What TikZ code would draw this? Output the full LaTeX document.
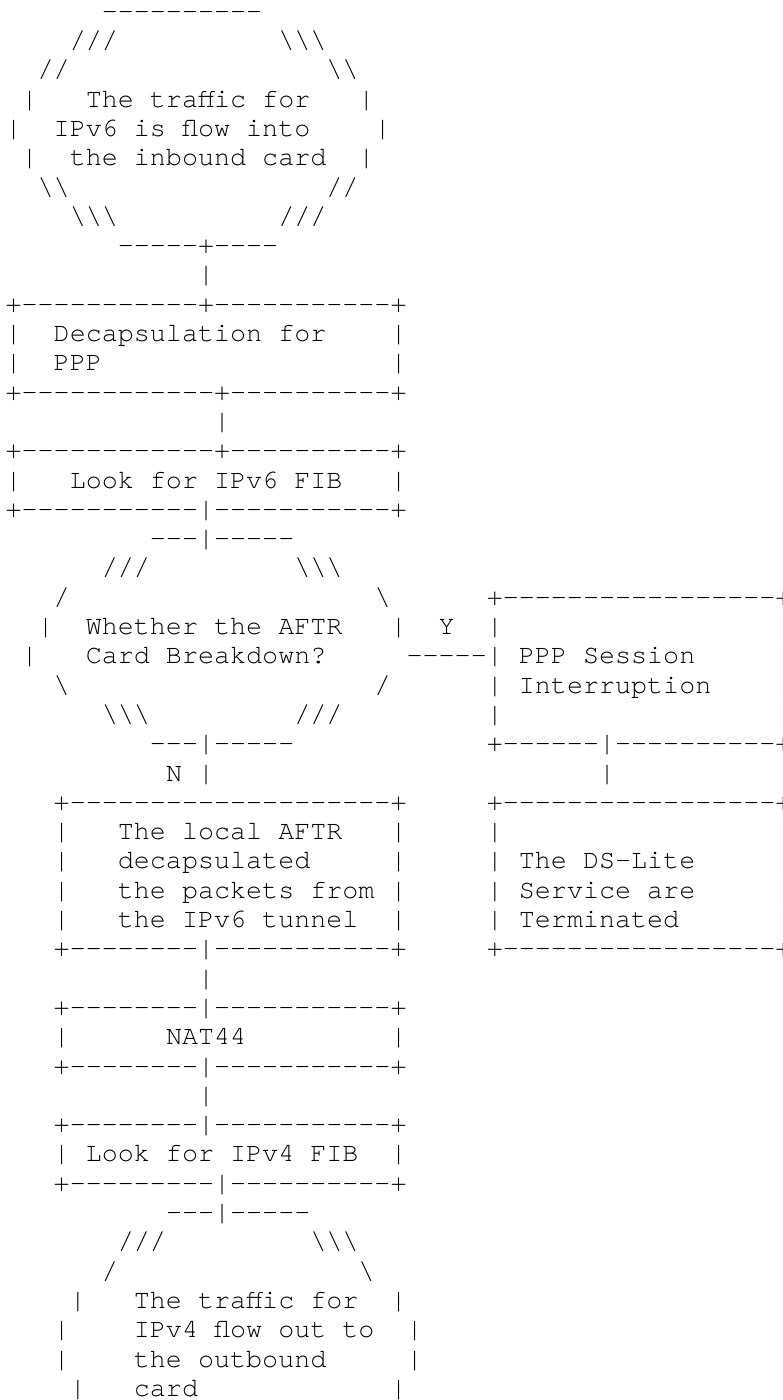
\documentclass[tikz,border=0pt]{standalone}
\usepackage{fontspec}
\setmonofont{TeX Gyre Cursor}

\newcommand\bsl{\textbackslash}
\tikzset{asc/.style={anchor=base west,inner sep=0pt,outer sep=0pt,
    font=\ttfamily\fontsize{26.73pt}{29.3pt}\selectfont}}

\begin{document}
\begin{tikzpicture}[x=16.04pt,y=-29.3pt]
\useasboundingbox (-5.6pt,19.2pt) rectangle (777.4pt,-1380.8pt);

% inbound traffic
\node (st0)    at ( 6, 0) [asc] {----------};
\node (st1l)   at ( 4, 1) [asc] {///};
\node (st1r)   at (17, 1) [asc] {\bsl\bsl\bsl};
\node (st2l)   at ( 2, 2) [asc] {//};
\node (st2r)   at (20, 2) [asc] {\bsl\bsl};
\node (st3l)   at ( 1, 3) [asc] {|};
\node (start1) at ( 5, 3) [asc] {The traffic for};
\node (st3r)   at (22, 3) [asc] {|};
\node (st4l)   at ( 0, 4) [asc] {|};
\node (start2) at ( 3, 4) [asc] {IPv6 is flow into};
\node (st4r)   at (23, 4) [asc] {|};
\node (st5l)   at ( 1, 5) [asc] {|};
\node (start3) at ( 4, 5) [asc] {the inbound card};
\node (st5r)   at (22, 5) [asc] {|};
\node (st6l)   at ( 2, 6) [asc] {\bsl\bsl};
\node (st6r)   at (20, 6) [asc] {//};
\node (st7l)   at ( 4, 7) [asc] {\bsl\bsl\bsl};
\node (st7r)   at (17, 7) [asc] {///};
\node (st8)    at ( 7, 8) [asc] {-----+----};
\node (ln9)    at (12, 9) [asc] {|};

% decapsulation
\node (dc10)   at ( 0,10) [asc] {+-----------+-----------+};
\node (dc11l)  at ( 0,11) [asc] {|};
\node (decap1) at ( 3,11) [asc] {Decapsulation for};
\node (dc11r)  at (24,11) [asc] {|};
\node (dc12l)  at ( 0,12) [asc] {|};
\node (decap2) at ( 3,12) [asc] {PPP};
\node (dc12r)  at (24,12) [asc] {|};
\node (dc13)   at ( 0,13) [asc] {+------------+----------+};
\node (ln14)   at (13,14) [asc] {|};

% IPv6 FIB
\node (f6a)    at ( 0,15) [asc] {+------------+----------+};
\node (f6l)    at ( 0,16) [asc] {|};
\node (fib6)   at ( 4,16) [asc] {Look for IPv6 FIB};
\node (f6r)    at (24,16) [asc] {|};
\node (f6b)    at ( 0,17) [asc] {+-----------|-----------+};

% AFTR card breakdown?
\node (q18)    at ( 9,18) [asc] {---|-----};
\node (q19l)   at ( 6,19) [asc] {///};
\node (q19r)   at (18,19) [asc] {\bsl\bsl\bsl};
\node (q20l)   at ( 3,20) [asc] {/};
\node (q20r)   at (23,20) [asc] {\bsl};
\node (q21l)   at ( 2,21) [asc] {|};
\node (quest1) at ( 5,21) [asc] {Whether the AFTR};
\node (q21r)   at (24,21) [asc] {|};
\node (yes)    at (27,21) [asc] {Y};
\node (q22l)   at ( 1,22) [asc] {|};
\node (quest2) at ( 5,22) [asc] {Card Breakdown?};
\node (q22y)   at (25,22) [asc] {-----};
\node (q23l)   at ( 3,23) [asc] {\bsl};
\node (q23r)   at (23,23) [asc] {/};
\node (q24l)   at ( 6,24) [asc] {\bsl\bsl\bsl};
\node (q24r)   at (18,24) [asc] {///};
\node (q25)    at ( 9,25) [asc] {---|-----};
\node (no)     at (10,26) [asc] {N};
\node (ln26)   at (12,26) [asc] {|};

% PPP session interruption
\node (pp20)   at (30,20) [asc] {+-----------------+};
\node (pp21l)  at (30,21) [asc] {|};
\node (pp21r)  at (48,21) [asc] {|};
\node (pp22l)  at (30,22) [asc] {|};
\node (ppp1)   at (32,22) [asc] {PPP Session};
\node (pp22r)  at (48,22) [asc] {|};
\node (pp23l)  at (30,23) [asc] {|};
\node (ppp2)   at (32,23) [asc] {Interruption};
\node (pp23r)  at (48,23) [asc] {|};
\node (pp24l)  at (30,24) [asc] {|};
\node (pp24r)  at (48,24) [asc] {|};
\node (pp25)   at (30,25) [asc] {+------|----------+};
\node (ln26r)  at (37,26) [asc] {|};

% local AFTR
\node (la27)   at ( 3,27) [asc] {+--------------------+};
\node (la28l)  at ( 3,28) [asc] {|};
\node (local1) at ( 7,28) [asc] {The local AFTR};
\node (la28r)  at (24,28) [asc] {|};
\node (la29l)  at ( 3,29) [asc] {|};
\node (local2) at ( 7,29) [asc] {decapsulated};
\node (la29r)  at (24,29) [asc] {|};
\node (la30l)  at ( 3,30) [asc] {|};
\node (local3) at ( 7,30) [asc] {the packets from};
\node (la30r)  at (24,30) [asc] {|};
\node (la31l)  at ( 3,31) [asc] {|};
\node (local4) at ( 7,31) [asc] {the IPv6 tunnel};
\node (la31r)  at (24,31) [asc] {|};
\node (la32)   at ( 3,32) [asc] {+--------|-----------+};

% DS-Lite terminated
\node (ds27)   at (30,27) [asc] {+-----------------+};
\node (ds28l)  at (30,28) [asc] {|};
\node (ds28r)  at (48,28) [asc] {|};
\node (ds29l)  at (30,29) [asc] {|};
\node (dsl1)   at (32,29) [asc] {The DS-Lite};
\node (ds29r)  at (48,29) [asc] {|};
\node (ds30l)  at (30,30) [asc] {|};
\node (dsl2)   at (32,30) [asc] {Service are};
\node (ds30r)  at (48,30) [asc] {|};
\node (ds31l)  at (30,31) [asc] {|};
\node (dsl3)   at (32,31) [asc] {Terminated};
\node (ds31r)  at (48,31) [asc] {|};
\node (ds32)   at (30,32) [asc] {+-----------------+};

% NAT44
\node (ln33)   at (12,33) [asc] {|};
\node (nt34)   at ( 3,34) [asc] {+--------|-----------+};
\node (nt35l)  at ( 3,35) [asc] {|};
\node (nat)    at (10,35) [asc] {NAT44};
\node (nt35r)  at (24,35) [asc] {|};
\node (nt36)   at ( 3,36) [asc] {+--------|-----------+};
\node (ln37)   at (12,37) [asc] {|};

% IPv4 FIB
\node (f4a)    at ( 3,38) [asc] {+--------|-----------+};
\node (f4l)    at ( 3,39) [asc] {|};
\node (fib4)   at ( 5,39) [asc] {Look for IPv4 FIB};
\node (f4r)    at (24,39) [asc] {|};
\node (f4b)    at ( 3,40) [asc] {+---------|----------+};

% outbound traffic
\node (ot41)   at (10,41) [asc] {---|-----};
\node (ot42l)  at ( 7,42) [asc] {///};
\node (ot42r)  at (19,42) [asc] {\bsl\bsl\bsl};
\node (ot43l)  at ( 6,43) [asc] {/};
\node (ot43r)  at (22,43) [asc] {\bsl};
\node (ot44l)  at ( 4,44) [asc] {|};
\node (out1)   at ( 8,44) [asc] {The traffic for};
\node (ot44r)  at (24,44) [asc] {|};
\node (ot45l)  at ( 3,45) [asc] {|};
\node (out2)   at ( 8,45) [asc] {IPv4 flow out to};
\node (ot45r)  at (25,45) [asc] {|};
\node (ot46l)  at ( 3,46) [asc] {|};
\node (out3)   at ( 8,46) [asc] {the outbound};
\node (ot46r)  at (25,46) [asc] {|};
\node (ot47l)  at ( 4,47) [asc] {|};
\node (out4)   at ( 8,47) [asc] {card};
\node (ot47r)  at (24,47) [asc] {|};
\end{tikzpicture}
\end{document}
